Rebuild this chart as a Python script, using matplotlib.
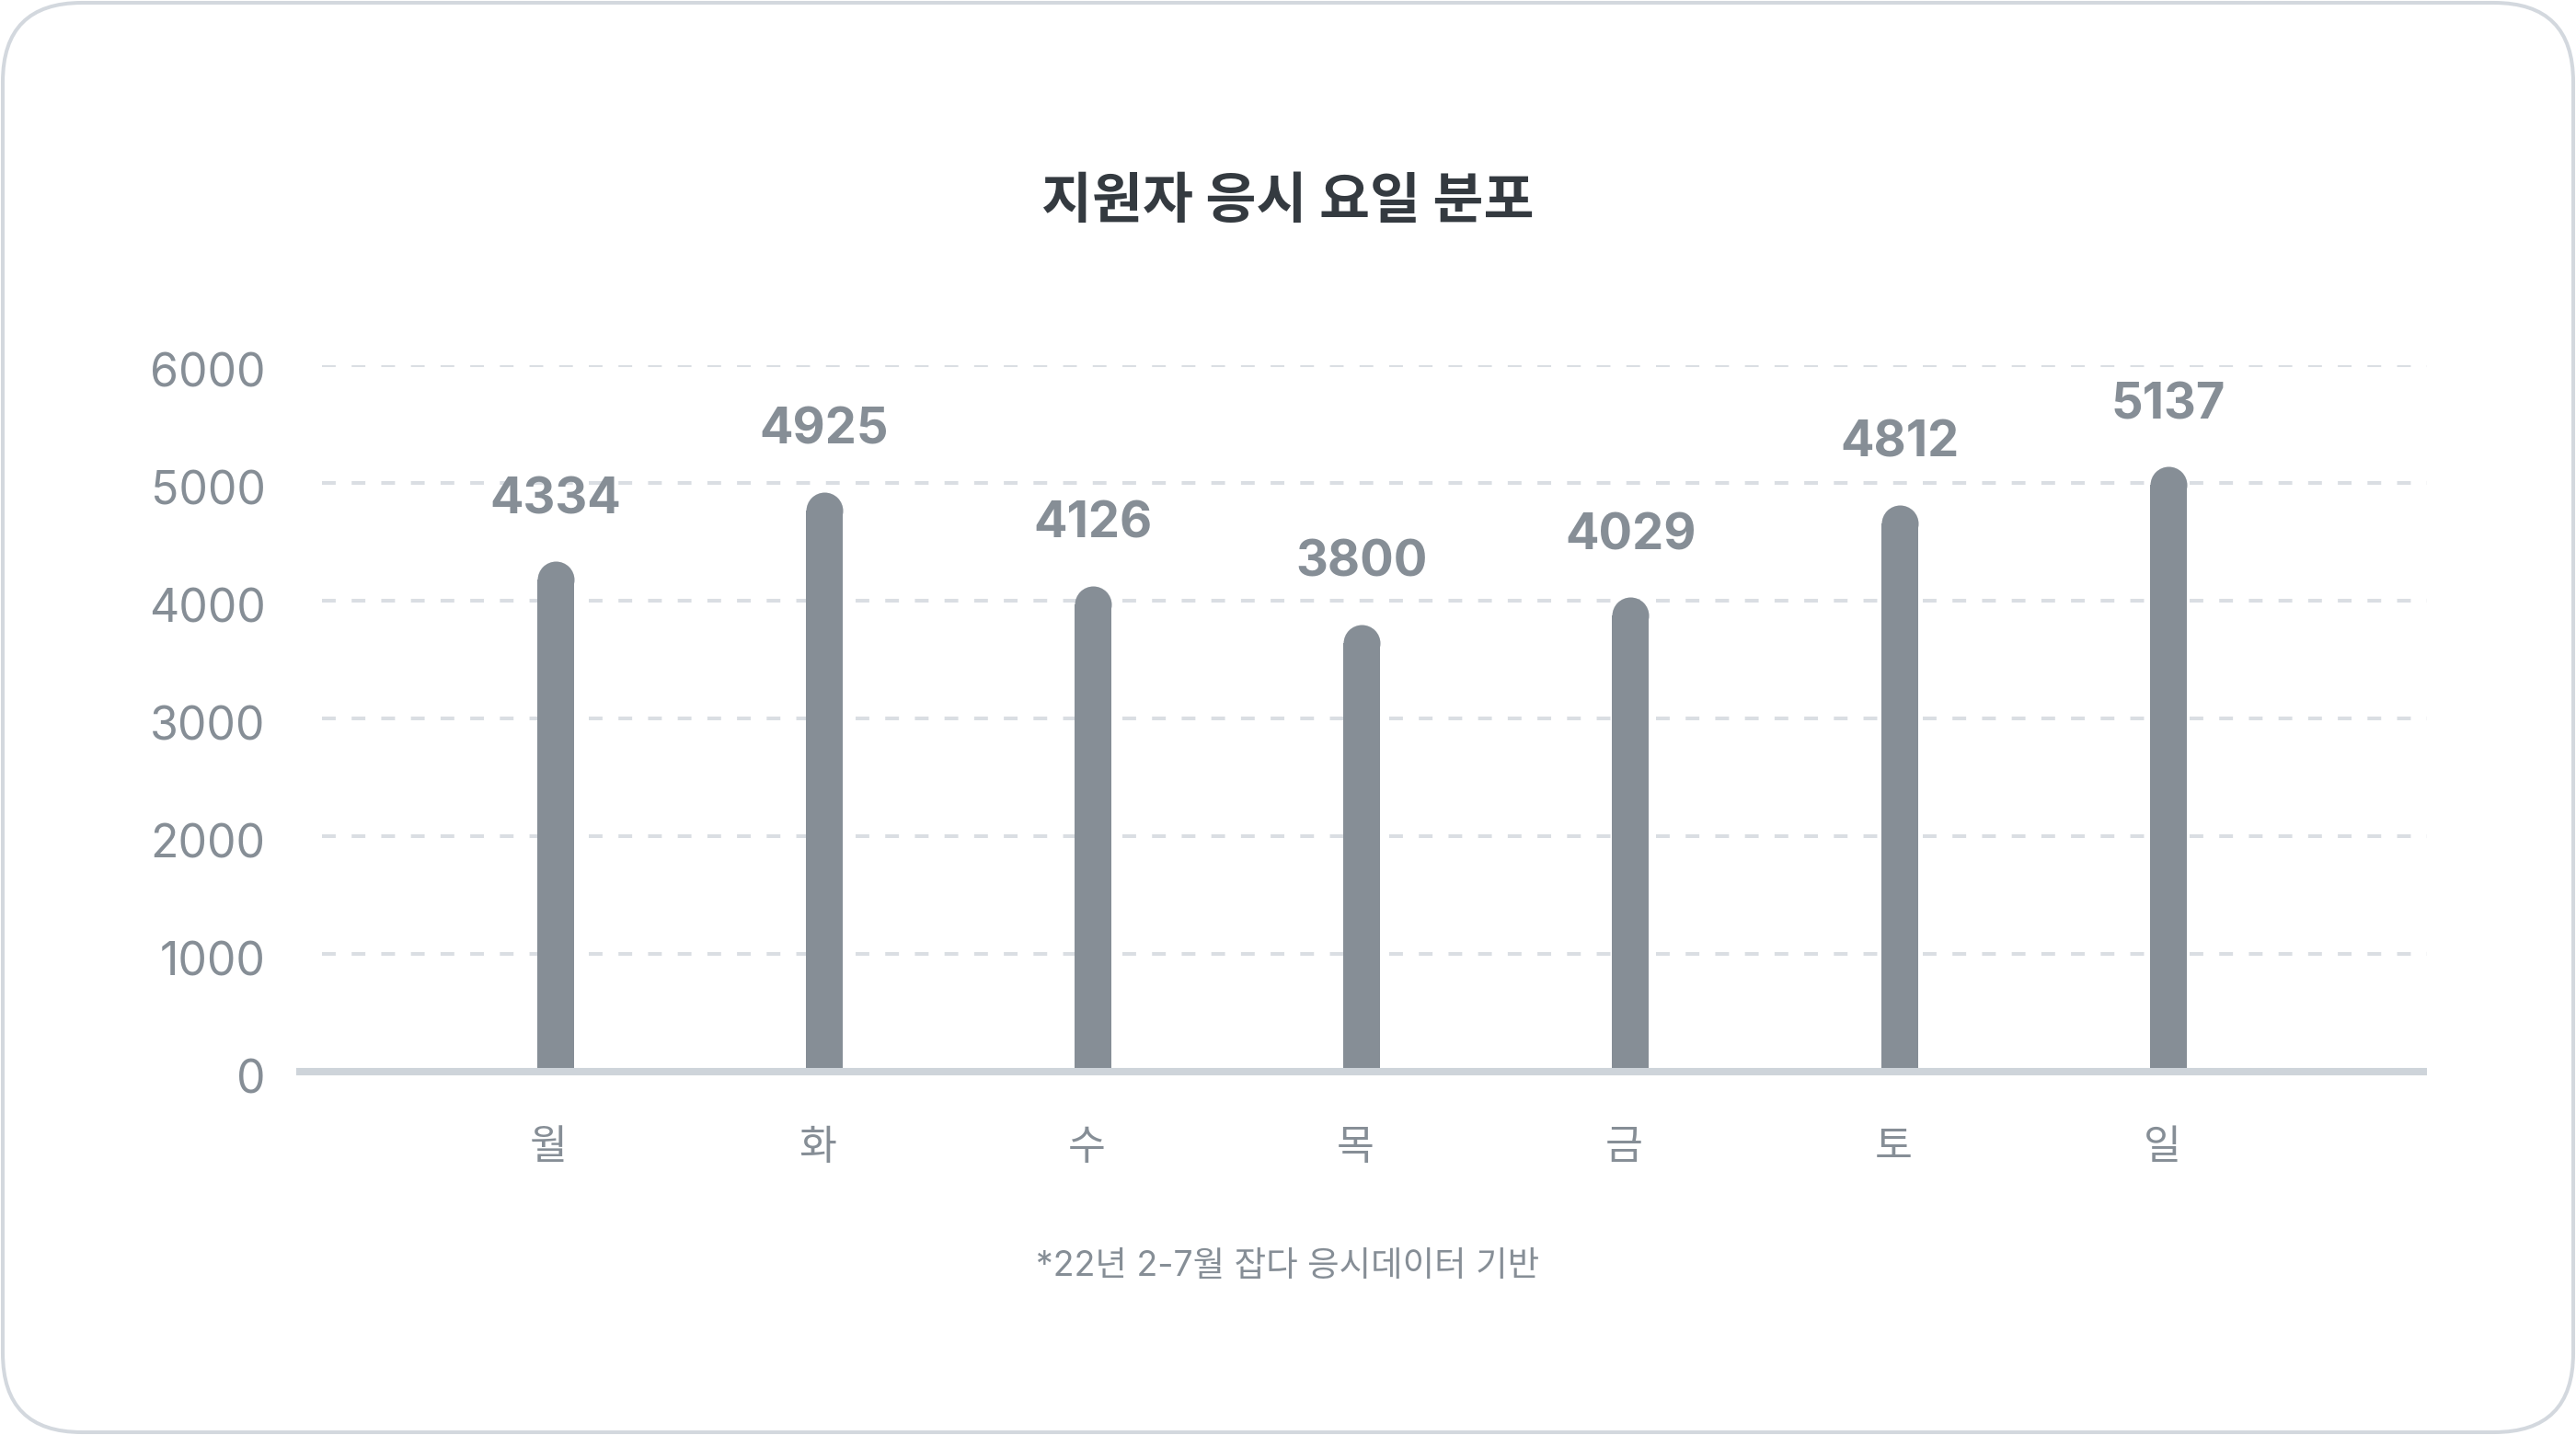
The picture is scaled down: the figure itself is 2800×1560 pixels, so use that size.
import matplotlib
matplotlib.use("Agg")
import matplotlib.pyplot as plt
import matplotlib.transforms as mtransforms
from matplotlib.patches import FancyBboxPatch

# 데이터
days = ["월", "화", "수", "목", "금", "토", "일"]
counts = [4334, 4925, 4126, 3800, 4029, 4812, 5137]
y_ticks = [0, 1000, 2000, 3000, 4000, 5000, 6000]

title = "지원자 응시 요일 분포"
note = "*22년 2-7월 잡다 응시데이터 기반"

bar_color = "#868e96"
text_gray = "#868e96"
grid_color = "#dadee3"
base_color = "#ced4da"
num_font = ["Inter", "Noto Sans CJK KR", "DejaVu Sans"]
kr_font = ["Noto Sans CJK KR", "DejaVu Sans"]

W, H, DPI = 2800, 1560, 100
fig = plt.figure(figsize=(W / DPI, H / DPI), dpi=DPI)
fig.patch.set_facecolor("white")

# 둥근 테두리
r = 86 / W
frame = FancyBboxPatch((3 / W, 3 / H), 1 - 6 / W, 1 - 6 / H,
                       boxstyle="round,pad=0,rounding_size=%f" % r,
                       mutation_aspect=W / H, transform=fig.transFigure,
                       facecolor="none", edgecolor="#d3d8de", linewidth=2.9,
                       zorder=-1)
fig.patches.append(frame)

ax_left, ax_right = 322 / W, 2638 / W
ax_bottom, ax_top = 1 - 1165 / H, 1 - 397 / H
ax = fig.add_axes([ax_left, ax_bottom, ax_right - ax_left, ax_top - ax_bottom])
ax.set_facecolor("none")

x = list(range(len(days)))
xlo, xhi = -0.964, 6.962
ax.set_xlim(xlo, xhi)
ax.set_ylim(0, 6000)

# 막대 (윗부분 둥글게)
px_per_x = (ax_right - ax_left) * W / (xhi - xlo)
px_per_y = (ax_top - ax_bottom) * H / 6000
bar_px = 40
bw = bar_px / px_per_x
cap = (bar_px / 2) / px_per_y
ax.bar(x, [c - cap for c in counts], width=bw, color=bar_color, zorder=2)
ax.plot(x, [c - cap for c in counts], "o", color=bar_color, markersize=bar_px * 72 / DPI,
        markeredgewidth=0, zorder=2)

for xi, c in zip(x, counts):
    ax.annotate(str(c), (xi, c), xytext=(0, 48), textcoords="offset points",
                ha="center", va="center", fontsize=39, fontweight="bold",
                color=text_gray, family=num_font, annotation_clip=False)

# 그리드
for t in y_ticks[1:]:
    ax.axhline(t, xmin=0.012, color=grid_color, linewidth=2.9,
               linestyle=(0, (3.7, 4.3)), zorder=0.5)

for s in ["top", "right", "left"]:
    ax.spines[s].set_visible(False)
ax.spines["bottom"].set_color(base_color)
ax.spines["bottom"].set_linewidth(5.8)
ax.spines["bottom"].set_capstyle("butt")

ax.set_yticks(y_ticks)
ax.set_yticklabels([str(t) for t in y_ticks], family=num_font, fontsize=36, color=text_gray)
ax.set_xticks(x)
ax.set_xticklabels(days, family=kr_font, fontsize=32, color=text_gray)
ax.tick_params(axis="y", length=0, pad=24)
ax.tick_params(axis="x", length=0, pad=42.5)

# 눈금 글자 위치 미세 조정
dy = mtransforms.ScaledTranslation(0, -5 / DPI, fig.dpi_scale_trans)
for lab in ax.get_yticklabels():
    lab.set_transform(lab.get_transform() + dy)
dx = mtransforms.ScaledTranslation(-7 / DPI, 0, fig.dpi_scale_trans)
for lab in ax.get_xticklabels():
    lab.set_transform(lab.get_transform() + dx)

fig.text(0.5, 1 - 220 / H, title, ha="center", va="center", fontsize=43,
         fontweight="bold", color="#343a40", family=kr_font)
fig.text(0.5, 1 - 1377 / H, note, ha="center", va="center", fontsize=27,
         color=text_gray, family=num_font)

fig.savefig("out.png", dpi=DPI, facecolor="white")
